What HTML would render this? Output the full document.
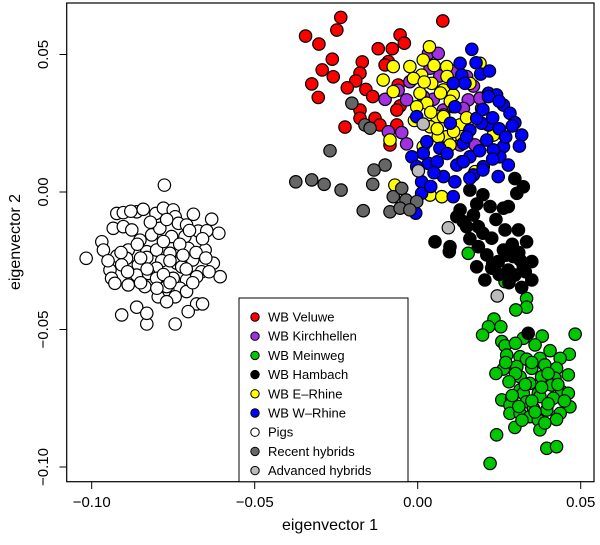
<!DOCTYPE html>
<html><head><meta charset="utf-8">
<style>
html,body{margin:0;padding:0;background:#fff;}
svg{display:block;font-family:"Liberation Sans",Arial,sans-serif;}
</style></head>
<body>
<svg id="chart" width="600" height="545" viewBox="0 0 600 545">
<rect x="0" y="0" width="600" height="545" fill="#fff"/>
<g id="points"></g>
<rect x="66.7" y="3" width="527.3" height="478.7" fill="none" stroke="#000" stroke-width="1.2"/>
<g id="axes"></g>
<text x="330" y="530" text-anchor="middle" font-size="16">eigenvector 1</text>
<text transform="translate(20,242) rotate(-90)" text-anchor="middle" font-size="16">eigenvector 2</text>
<g id="legend"></g>
</svg>
<script>
const groupNames = ["WB Veluwe","WB Kirchhellen","WB Meinweg","WB Hambach","WB E\u2013Rhine","WB W\u2013Rhine","Pigs","Recent hybrids","Advanced hybrids"];
const groupColors = ["#ff0000","#a030e0","#00c800","#000000","#ffff00","#0000ff","#ffffff","#666666","#bbbbbb"];
const xTicks = [-0.10,-0.05,0.00,0.05];
const xTickLabels = ["\u22120.10","\u22120.05","0.00","0.05"];
const yTicks = [0.05,0.00,-0.05,-0.10];
const yTickLabels = ["0.05","0.00","\u22120.05","\u22120.10"];

const veluweX = [-0.0236,-0.0248,-0.0344,-0.0303,0.0077,-0.0054,-0.0121,-0.0078,-0.0041,-0.0262,-0.0293,-0.0259,-0.0325,-0.0305,-0.0170,-0.0177,-0.0190,-0.0216,-0.0159,-0.0138,-0.0090,-0.0100,-0.0223,-0.0177,-0.0177,-0.0131,-0.0116,-0.0064,-0.0054,-0.0064,-0.0085,-0.0060];
const veluweY = [0.0635,0.0589,0.0567,0.0538,0.0622,0.0571,0.0521,0.0521,0.0541,0.0483,0.0444,0.0419,0.0393,0.0344,0.0473,0.0432,0.0404,0.0379,0.0373,0.0347,0.0474,0.0462,0.0236,0.0298,0.0268,0.0268,0.0244,0.0244,0.0313,0.0298,0.0171,0.0389];
const kirchX = [0.0033,0.0063,0.0038,0.0068,-0.0024,-0.0100,-0.0034,0.0048,0.0171,0.0155,0.0140,0.0196,0.0191,-0.0090,-0.0049,-0.0034,0.0176,0.0130,0.0017,0.0079,0.0110,0.0150,0.0080,-0.0060];
const kirchY = [0.0504,0.0504,0.0450,0.0422,0.0401,0.0337,0.0335,0.0337,0.0385,0.0335,0.0304,0.0304,0.0341,0.0219,0.0216,0.0175,0.0171,0.0171,0.0347,0.0298,0.0440,0.0420,0.0280,0.0370];
const meinwegX = [0.0155,0.0268,0.0334,0.0334,0.0301,0.0234,0.0217,0.0255,0.0199,0.0483,0.0382,0.0324,0.0258,0.0268,0.0360,0.0406,0.0465,0.0273,0.0314,0.0334,0.0375,0.0437,0.0263,0.0304,0.0350,0.0390,0.0426,0.0462,0.0314,0.0380,0.0421,0.0344,0.0411,0.0314,0.0370,0.0442,0.0462,0.0258,0.0288,0.0324,0.0334,0.0375,0.0416,0.0283,0.0355,0.0396,0.0467,0.0437,0.0283,0.0314,0.0344,0.0370,0.0426,0.0298,0.0375,0.0242,0.0396,0.0426,0.0222,0.0300,0.0350,0.0400,0.0330,0.0380,0.0290,0.0350,0.0400,0.0310,0.0360,0.0430,0.0280,0.0450,0.0320,0.0390,0.0270,0.0240,0.0300];
const meinwegY = [-0.0223,-0.0326,-0.0387,-0.0419,-0.0429,-0.0462,-0.0490,-0.0490,-0.0520,-0.0517,-0.0524,-0.0532,-0.0544,-0.0559,-0.0556,-0.0577,-0.0590,-0.0593,-0.0599,-0.0608,-0.0605,-0.0605,-0.0644,-0.0635,-0.0641,-0.0629,-0.0641,-0.0665,-0.0672,-0.0672,-0.0677,-0.0696,-0.0702,-0.0720,-0.0732,-0.0726,-0.0732,-0.0756,-0.0750,-0.0732,-0.0763,-0.0744,-0.0750,-0.0775,-0.0787,-0.0793,-0.0781,-0.0805,-0.0805,-0.0805,-0.0817,-0.0829,-0.0827,-0.0856,-0.0865,-0.0883,-0.0932,-0.0926,-0.0987,-0.0660,-0.0620,-0.0660,-0.0700,-0.0710,-0.0740,-0.0760,-0.0770,-0.0780,-0.0800,-0.0700,-0.0690,-0.0760,-0.0830,-0.0840,-0.0620,-0.0660,-0.0550];
const hambachX = [0.0181,0.0222,0.0278,0.0171,0.0140,0.0186,0.0268,0.0309,0.0227,0.0334,0.0053,0.0097,0.0186,0.0212,0.0263,0.0293,0.0247,0.0314,0.0350,0.0181,0.0227,0.0278,0.0324,0.0206,0.0298,0.0350,0.0319,0.0339,0.0099,0.0160,0.0298,0.0324,0.0304,0.0130,0.0150,0.0263,0.0200,0.0240,0.0290,0.0310,0.0270,0.0230,0.0330,0.0280,0.0250,0.0160,0.0120,0.0200];
const hambachY = [-0.0044,-0.0053,-0.0053,-0.0084,-0.0108,-0.0126,-0.0138,-0.0138,-0.0168,-0.0181,-0.0181,-0.0217,-0.0199,-0.0229,-0.0211,-0.0235,-0.0253,-0.0247,-0.0253,-0.0272,-0.0277,-0.0284,-0.0272,-0.0320,-0.0302,-0.0320,-0.0347,-0.0514,-0.0199,0.0007,0.0049,0.0019,-0.0005,-0.0065,-0.0126,-0.0059,-0.0150,-0.0100,-0.0190,-0.0220,-0.0230,-0.0260,-0.0290,-0.0330,-0.0300,-0.0170,-0.0090,-0.0010];
const eRhineX = [0.0036,0.0017,-0.0024,0.0012,0.0089,-0.0106,-0.0075,-0.0013,0.0043,0.0079,0.0109,0.0007,0.0028,-0.0003,0.0058,0.0079,0.0038,0.0130,0.0135,0.0089,0.0099,0.0017,0.0063,0.0232,0.0135,0.0176,-0.0070,0.0038,0.0074,0.0160,0.0191,-0.0075,0.0109,-0.0085,0.0050,0.0090,0.0020,0.0070,0.0100,0.0040,0.0060,0.0110,0.0150,-0.0010];
const eRhineY = [0.0528,0.0480,0.0456,0.0425,0.0456,0.0407,0.0365,0.0413,0.0395,0.0371,0.0353,0.0359,0.0323,0.0310,0.0274,0.0274,0.0237,0.0244,0.0201,0.0201,0.0171,0.0165,0.0201,0.0207,0.0110,0.0074,0.0025,-0.0011,-0.0017,0.0395,0.0468,0.0456,0.0310,0.0189,0.0460,0.0420,0.0400,0.0360,0.0330,0.0290,0.0230,0.0220,0.0270,0.0260];
const wRhineX = [0.0166,0.0130,0.0179,0.0193,0.0135,0.0145,0.0217,0.0242,0.0263,0.0283,0.0298,0.0319,0.0312,0.0263,0.0217,0.0196,0.0160,0.0212,0.0252,0.0278,0.0247,0.0201,0.0160,0.0120,0.0079,0.0114,0.0033,0.0017,-0.0018,-0.0003,0.0012,0.0068,0.0028,-0.0003,0.0114,0.0181,0.0109,0.0012,-0.0006,0.0140,0.0171,0.0232,0.0217,0.0109,0.0200,0.0230,0.0250,0.0270,0.0190,0.0150,0.0100,0.0060,0.0090,0.0140,0.0200,0.0230,0.0160,0.0050,0.0290,0.0220,0.0250,0.0040];
const wRhineY = [0.0519,0.0468,0.0470,0.0429,0.0425,0.0395,0.0359,0.0353,0.0316,0.0286,0.0252,0.0207,0.0167,0.0165,0.0244,0.0250,0.0225,0.0189,0.0128,0.0098,0.0056,0.0092,0.0128,0.0098,0.0056,0.0037,0.0104,0.0141,0.0128,0.0092,0.0037,0.0159,0.0183,0.0274,0.0310,0.0268,-0.0017,-0.0005,-0.0077,0.0177,0.0062,0.0153,0.0347,0.0395,0.0300,0.0270,0.0230,0.0200,0.0150,0.0200,0.0250,0.0110,0.0140,0.0110,0.0080,0.0120,0.0050,0.0070,0.0240,0.0440,0.0330,0.0020];
const pigsX = [-0.0777,-0.1017,-0.0908,-0.0831,-0.0744,-0.0862,-0.0831,-0.0678,-0.0660,-0.0704,-0.0923,-0.0903,-0.0862,-0.0842,-0.0803,-0.0780,-0.0750,-0.0744,-0.0688,-0.0632,-0.0610,-0.0673,-0.0647,-0.0734,-0.0709,-0.0934,-0.0903,-0.0877,-0.0816,-0.0791,-0.0755,-0.0714,-0.0852,-0.0969,-0.0964,-0.0923,-0.0888,-0.0831,-0.0801,-0.0760,-0.0704,-0.0652,-0.0893,-0.0831,-0.0785,-0.0739,-0.0690,-0.0627,-0.0944,-0.0908,-0.0857,-0.0801,-0.0724,-0.0663,-0.0606,-0.0939,-0.0888,-0.0862,-0.0826,-0.0801,-0.0750,-0.0709,-0.0678,-0.0929,-0.0837,-0.0770,-0.0729,-0.0796,-0.0744,-0.0709,-0.0770,-0.0880,-0.0820,-0.0770,-0.0700,-0.0860,-0.0780,-0.0730,-0.0680,-0.0910,-0.0850,-0.0760,-0.0710,-0.0650,-0.0890,-0.0830,-0.0780,-0.0690,-0.0850,-0.0800,-0.0760,-0.0640,-0.0950,-0.0720,-0.0660];
const pigsY = [0.0025,-0.0241,-0.0447,-0.0480,-0.0480,-0.0419,-0.0441,-0.0407,-0.0407,-0.0435,-0.0078,-0.0075,-0.0072,-0.0063,-0.0078,-0.0059,-0.0065,-0.0090,-0.0081,-0.0099,-0.0150,-0.0142,-0.0141,-0.0114,-0.0120,-0.0132,-0.0126,-0.0138,-0.0156,-0.0132,-0.0162,-0.0162,-0.0175,-0.0181,-0.0211,-0.0233,-0.0211,-0.0217,-0.0211,-0.0223,-0.0205,-0.0211,-0.0241,-0.0238,-0.0250,-0.0259,-0.0247,-0.0259,-0.0284,-0.0265,-0.0265,-0.0277,-0.0272,-0.0290,-0.0308,-0.0314,-0.0338,-0.0302,-0.0296,-0.0314,-0.0314,-0.0320,-0.0308,-0.0332,-0.0344,-0.0344,-0.0350,-0.0381,-0.0381,-0.0362,-0.0399,-0.0070,-0.0110,-0.0100,-0.0140,-0.0190,-0.0180,-0.0190,-0.0220,-0.0220,-0.0240,-0.0250,-0.0280,-0.0240,-0.0290,-0.0280,-0.0300,-0.0330,-0.0330,-0.0350,-0.0330,-0.0290,-0.0250,-0.0230,-0.0170];
const recentX = [-0.0202,-0.0162,-0.0146,-0.0269,-0.0100,-0.0134,-0.0374,-0.0325,-0.0287,-0.0235,-0.0138,-0.0167,-0.0085,-0.0075,-0.0049,-0.0036,-0.0003,-0.0054,-0.0024];
const recentY = [0.0323,0.0244,0.0232,0.0150,0.0098,0.0080,0.0037,0.0044,0.0028,0.0007,0.0028,-0.0068,-0.0072,-0.0017,0.0013,-0.0029,-0.0035,-0.0059,-0.0065];
const advancedX = [0.0017,0.0002,0.0094,0.0244];
const advancedY = [0.0247,0.0077,-0.0130,-0.0378];

const groupsX = [veluweX,kirchX,meinwegX,hambachX,eRhineX,wRhineX,pigsX,recentX,advancedX];
const groupsY = [veluweY,kirchY,meinwegY,hambachY,eRhineY,wRhineY,pigsY,recentY,advancedY];

const NS = "http://www.w3.org/2000/svg";
function sx(v){ return 417.7 + v*3260; }
function sy(v){ return 192 - v*2750; }

const ptsG = document.getElementById('points');
groupsX.forEach((xs,gi)=>{
  const g = document.createElementNS(NS,'g');
  
  
  xs.forEach((xv,i)=>{
    const c = document.createElementNS(NS,'circle');
    c.setAttribute('cx', sx(xv));
    c.setAttribute('cy', sy(groupsY[gi][i]));
    c.setAttribute('r', 6.2);
    c.setAttribute('fill', groupColors[gi]);
    c.setAttribute('stroke', '#000');
    c.setAttribute('stroke-width', '1.2');
    
    
    g.appendChild(c);
  });
  ptsG.appendChild(g);
});

const axG = document.getElementById('axes');
xTicks.forEach((t,i)=>{
  const l = document.createElementNS(NS,'line');
  l.setAttribute('x1', sx(t)); l.setAttribute('x2', sx(t));
  l.setAttribute('y1', 481.7); l.setAttribute('y2', 489);
  l.setAttribute('stroke', '#000');
  
  
  axG.appendChild(l);
  const tx = document.createElementNS(NS,'text');
  tx.setAttribute('x', sx(t)); tx.setAttribute('y', 507);
  tx.setAttribute('text-anchor','middle'); tx.setAttribute('font-size','15');
  tx.textContent = xTickLabels[i];
  
  
  axG.appendChild(tx);
});
yTicks.forEach((t,i)=>{
  const l = document.createElementNS(NS,'line');
  l.setAttribute('x1', 59.5); l.setAttribute('x2', 66.7);
  l.setAttribute('y1', sy(t)); l.setAttribute('y2', sy(t));
  l.setAttribute('stroke', '#000');
  
  
  axG.appendChild(l);
  const tx = document.createElementNS(NS,'text');
  tx.setAttribute('transform', 'translate(48,'+sy(t)+') rotate(-90)');
  tx.setAttribute('text-anchor','middle'); tx.setAttribute('font-size','15');
  tx.textContent = yTickLabels[i];
  
  
  axG.appendChild(tx);
});

const lg = document.getElementById('legend');
const box = document.createElementNS(NS,'rect');
box.setAttribute('x', 239); box.setAttribute('y', 298);
box.setAttribute('width', 169); box.setAttribute('height', 183.7);
box.setAttribute('fill', '#fff'); box.setAttribute('stroke', '#000');


lg.appendChild(box);
groupNames.forEach((n,i)=>{
  const y = 317 + i*19.2;
  const c = document.createElementNS(NS,'circle');
  c.setAttribute('cx', 255); c.setAttribute('cy', y);
  c.setAttribute('r', 4.2); c.setAttribute('fill', groupColors[i]);
  c.setAttribute('stroke', '#000'); c.setAttribute('stroke-width','1');
  
  
  lg.appendChild(c);
  const t = document.createElementNS(NS,'text');
  t.setAttribute('x', 268); t.setAttribute('y', y+4.5);
  t.setAttribute('font-size', '13');
  t.textContent = n;
  
  
  lg.appendChild(t);
});
</script>
</body></html>
